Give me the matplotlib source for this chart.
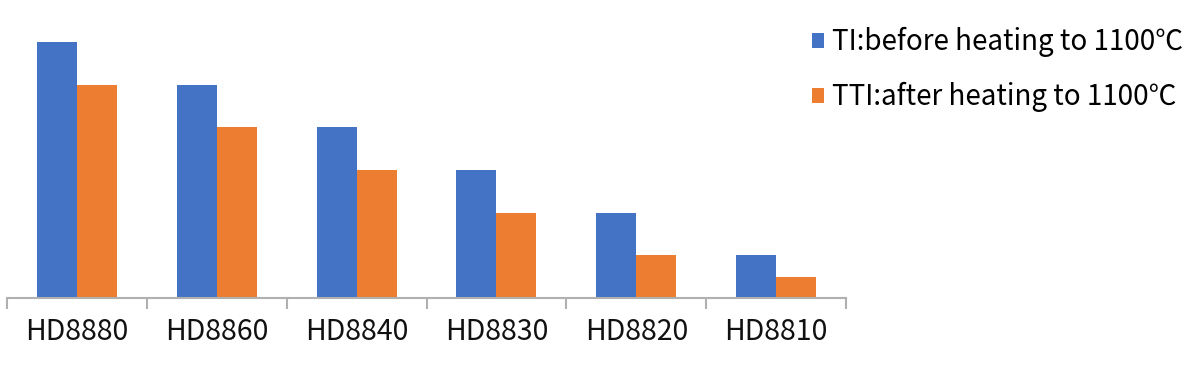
import matplotlib.pyplot as plt
import numpy as np

plt.rcParams['font.family'] = ['Noto Sans CJK SC', 'DejaVu Sans']

# data
categories = ['HD8880', 'HD8860', 'HD8840', 'HD8830', 'HD8820', 'HD8810']
before = [12, 10, 8, 6, 4, 2]
after = [10, 8, 6, 4, 2, 1]
labels = ['TI:before heating to 1100℃', 'TTI:after heating to 1100℃']

fig = plt.figure(figsize=(12, 3.77), dpi=100)
ax = fig.add_axes([7/1200, 1 - 298/377, 839/1200, 256/377])

x = np.arange(len(categories))
w = 0.286
b1 = ax.bar(x - w/2, before, w, color='#4472C4', label=labels[0])
b2 = ax.bar(x + w/2, after, w, color='#ED7D31', label=labels[1])

ax.set_xlim(-0.5, len(categories) - 0.5)
ax.set_ylim(0, 12)

for s in ['top', 'right', 'left']:
    ax.spines[s].set_visible(False)
ax.spines['bottom'].set_color('#b0b0b0')
ax.spines['bottom'].set_linewidth(1.5)
ax.set_yticks([])

# ticks at group boundaries, labels at group centres
ax.set_xticks(np.arange(len(categories) + 1) - 0.5)
ax.set_xticklabels([])
ax.tick_params(axis='x', which='major', length=8, width=1.5, color='#b0b0b0')
ax.set_xticks(x, minor=True)
ax.set_xticklabels(categories, minor=True, fontsize=20.5, color='#111111')
ax.tick_params(axis='x', which='minor', length=0, pad=14)

fig.legend(handles=[b1, b2], loc='upper left', bbox_to_anchor=(801/1200, 1 - 16/377),
           frameon=False, fontsize=20, handlelength=0.43, handleheight=0.43,
           handletextpad=0.3, labelspacing=0.9, borderaxespad=0)

fig.savefig('out.png', dpi=100)
